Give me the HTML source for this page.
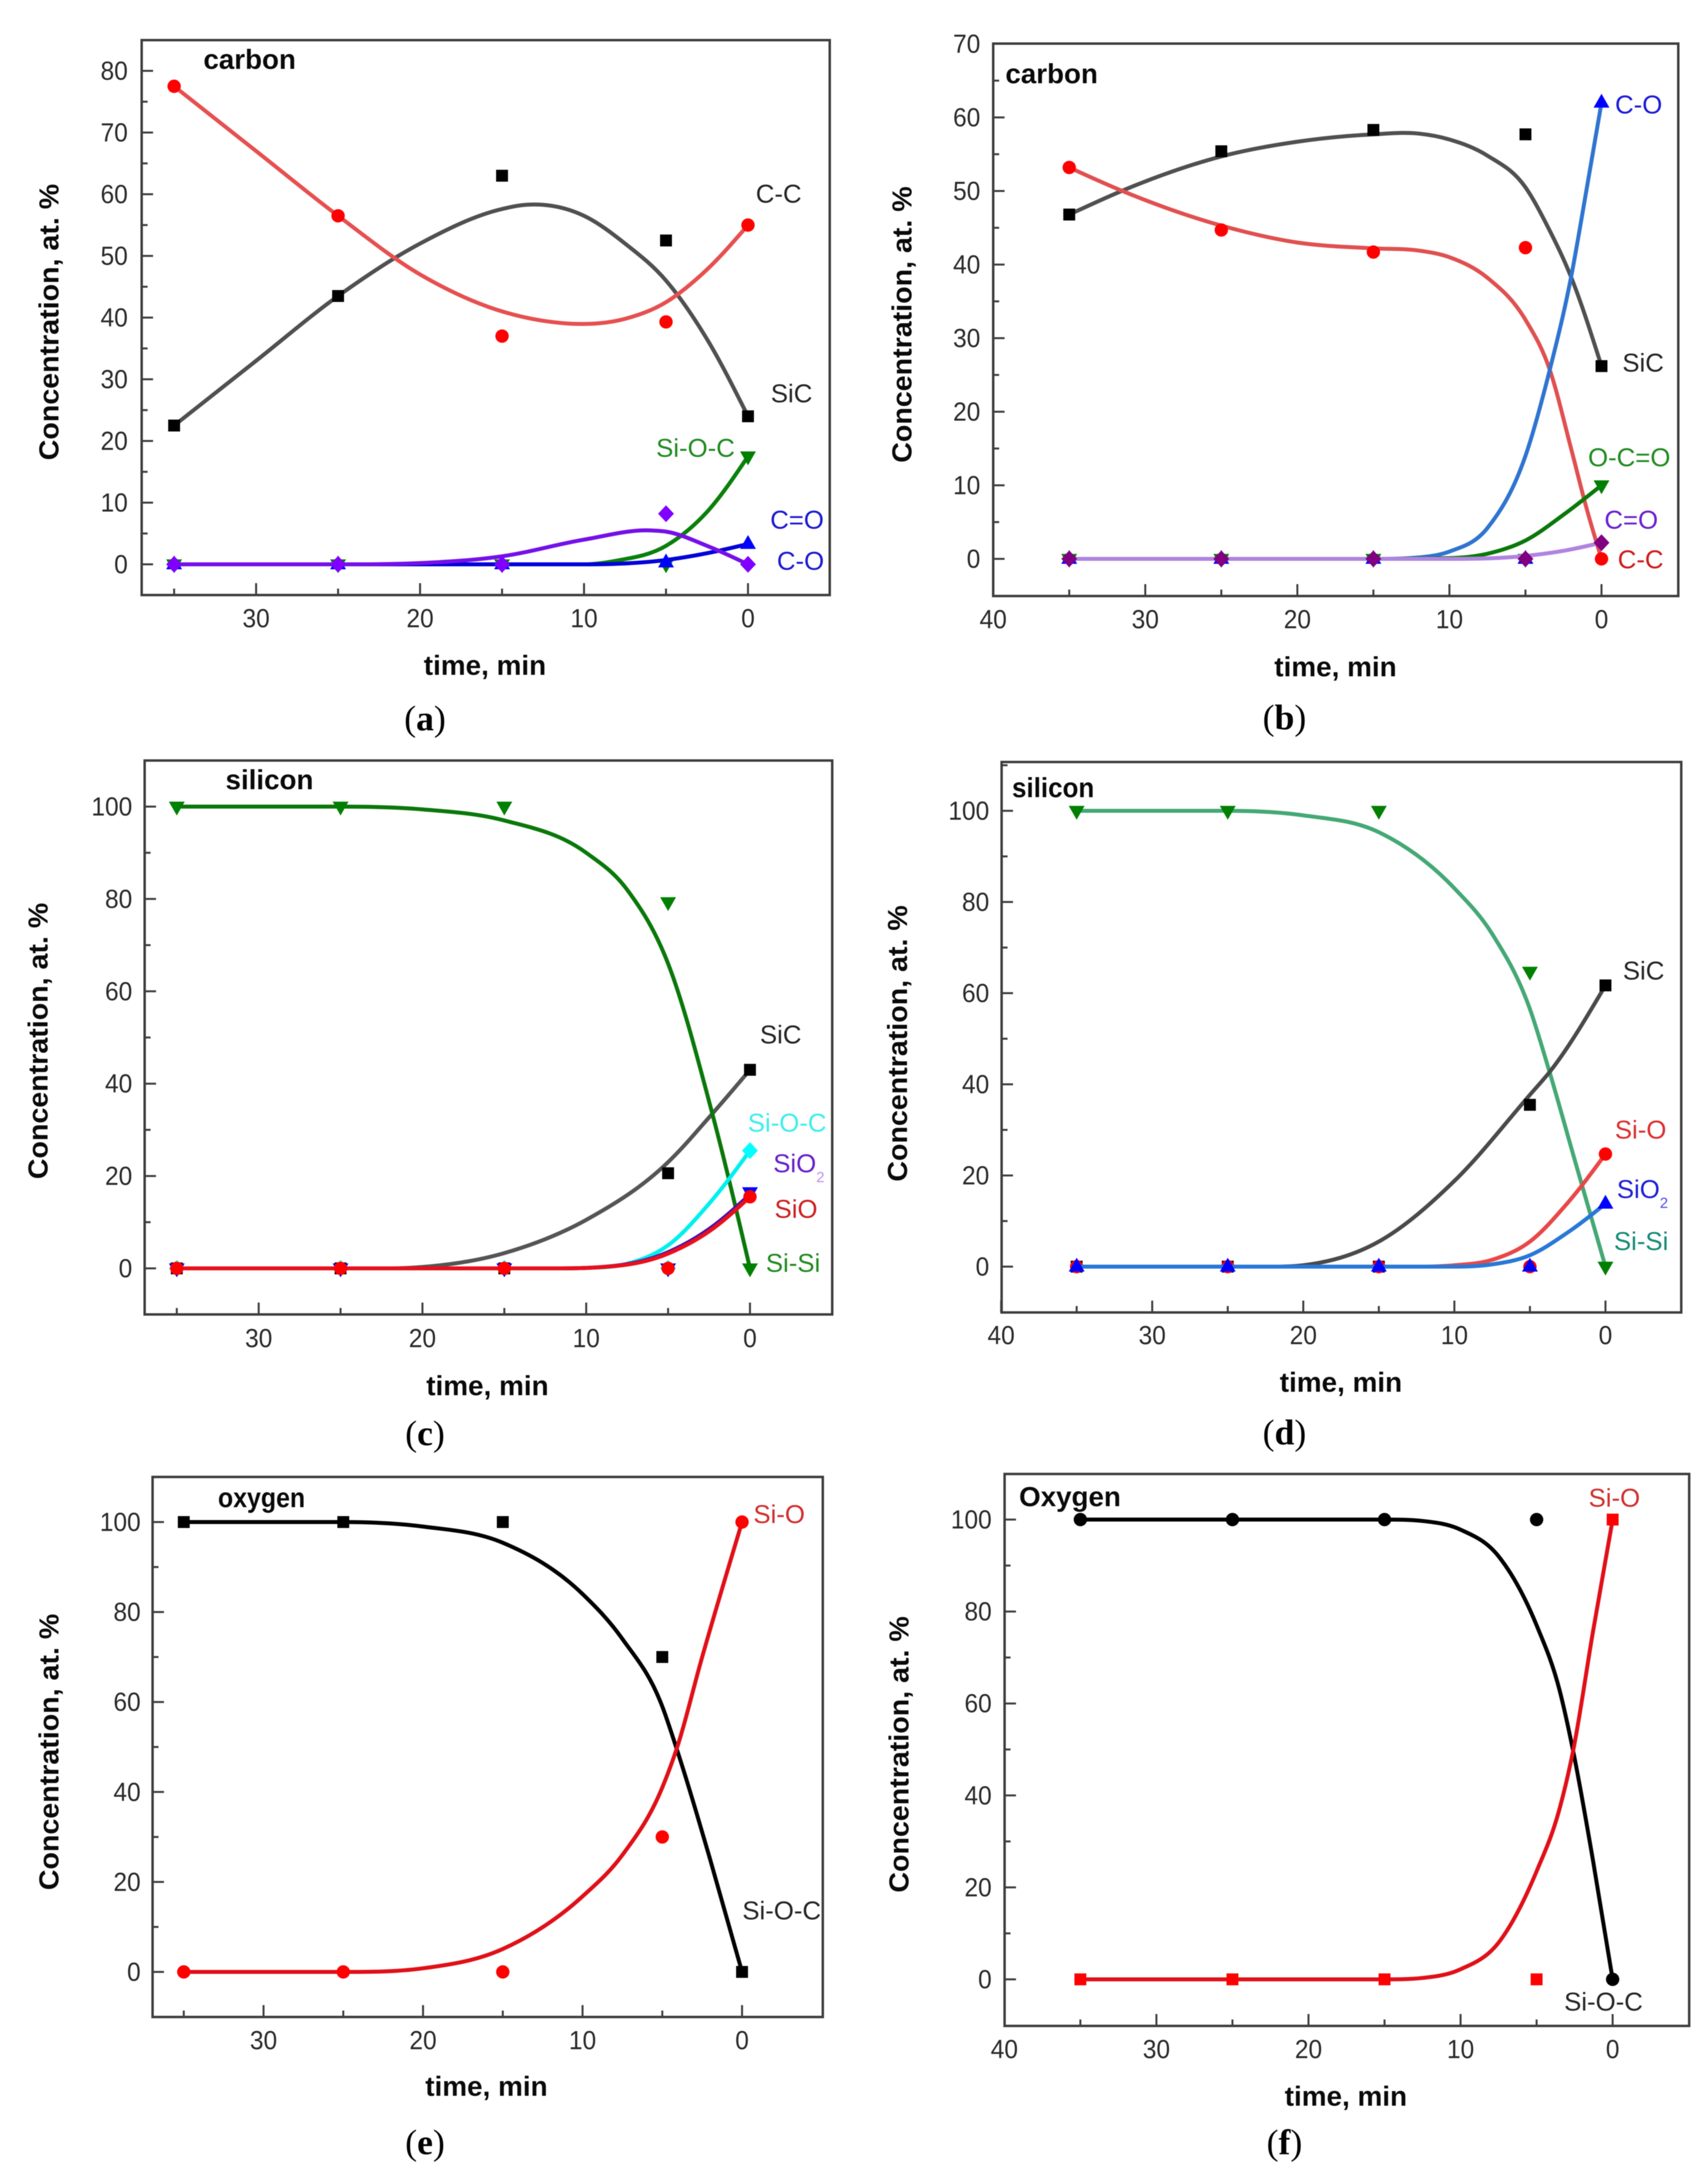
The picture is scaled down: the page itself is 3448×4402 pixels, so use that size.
<!DOCTYPE html>
<html lang="en">
<head>
<meta charset="utf-8">
<title>Concentration versus time, six panels</title>
<style>
html,body{margin:0;padding:0;background:#fff;}
svg{display:block;filter:blur(0.7px);}
text{font-family:"Liberation Sans",Arial,sans-serif;}
.cap{font-family:"Liberation Serif","Times New Roman",serif;}
</style>
</head>
<body>
<svg id="figure" xmlns="http://www.w3.org/2000/svg" width="3448" height="4402" viewBox="0 0 3448 4402">
<rect x="0" y="0" width="3448" height="4402" fill="#ffffff"/>
</svg>
<script>
// ---- shared sample times and axis labels ----
const sampleTimes = [35, 25, 15, 5, 0];
const xMinorTicks = [35, 25, 15, 5];
const xTicksShort = [30, 20, 10, 0];
const xTicksLong = [40, 30, 20, 10, 0];
const yTicksCarbonA = [0, 10, 20, 30, 40, 50, 60, 70, 80];
const yTicksCarbonB = [0, 10, 20, 30, 40, 50, 60, 70];
const yTicksPercent = [0, 20, 40, 60, 80, 100];

// ---- panel a: carbon ----
const aSicPoints = [22.5, 43.5, 63, 52.5, 24];
const aSicCurveT = [35, 30, 25, 20, 15, 13.5, 10, 7.5, 5, 2.5, 0];
const aSicCurveV = [22.5, 33, 43.5, 52, 57.6, 58.3, 56.5, 52, 46, 36.5, 24];
const aCcPoints = [77.5, 56.5, 37, 39.3, 55];
const aCcCurveT = [35, 30, 25, 20, 15, 12, 10.7, 7.5, 5, 2.5, 0];
const aCcCurveV = [77.5, 67, 56.5, 47, 41, 39.3, 39, 39.8, 42.5, 47.8, 55];
const aSiocPoints = [0, 0, 0, 0, 17.5];
const aSiocCurveT = [35, 20, 10, 8, 5, 2.5, 0];
const aSiocCurveV = [0, 0, 0, 0.6, 3, 8.5, 17.5];
const aCoPoints = [0, 0, 0, 0.3, 3.3];
const aCoCurveT = [35, 20, 10, 5, 2.5, 0];
const aCoCurveV = [0, 0, 0, 0.7, 1.8, 3.3];
const aCdoPoints = [0, 0, 0, 8.2, 0];
const aCdoCurveT = [35, 25, 20, 15, 10, 6, 5, 2.5, 0];
const aCdoCurveV = [0, 0, 0.2, 1.3, 4, 5.5, 5.3, 3, 0];

// ---- panel b: carbon ----
const bSicPoints = [46.8, 55.4, 58.3, 57.7, 26.2];
const bSicCurveT = [35, 30, 25, 20, 15, 12, 10, 7.5, 5, 3.5, 2, 0];
const bSicCurveV = [46.8, 51.3, 54.7, 56.7, 57.7, 57.8, 57, 54.8, 50.5, 45, 38.3, 26.2];
const bCcPoints = [53.2, 44.7, 41.7, 42.3, 0];
const bCcCurveT = [35, 31.5, 25, 20, 15, 12, 10, 7.5, 5, 3.4, 2, 1, 0];
const bCcCurveV = [53.2, 50, 45.3, 43, 42.2, 41.9, 41, 38.2, 32.5, 25.7, 15, 7, 0];
const bCoPoints = [0, 0, 0, 0, 62];
const bCoCurveT = [35, 15, 12, 10, 7.5, 5, 3.4, 2, 1, 0];
const bCoCurveV = [0, 0, 0.2, 1, 4.2, 14, 25.7, 38.3, 50, 62];
const bOcoPoints = [0, 0, 0, 0, 10];
const bOcoCurveT = [35, 15, 10, 7.5, 5, 2.5, 0];
const bOcoCurveV = [0, 0, 0.1, 0.7, 2.5, 6, 10];
const bCdoPoints = [0, 0, 0, 0, 2.2];
const bCdoCurveT = [35, 15, 10, 5, 2.5, 0];
const bCdoCurveV = [0, 0, 0, 0.4, 1.1, 2.2];

// ---- panel c: silicon ----
const cSicPoints = [0, 0, 0, 20.6, 43];
const cSicCurveT = [35, 22, 20, 15, 10, 5, 2.3, 0];
const cSicCurveV = [0, 0, 0.3, 3.3, 10.5, 23, 33.5, 43];
const cSisiPoints = [100, 100, 100, 79.3, 0];
const cSisiCurveT = [35, 25, 20, 15, 10, 7.5, 5, 2.3, 0];
const cSisiCurveV = [100, 100, 99.4, 97, 90, 82, 66, 33.5, 0];
const cSiocPoints = [0, 0, 0, 0, 25.5];
const cSiocCurveT = [35, 12, 10, 7.5, 5, 2.5, 0];
const cSiocCurveV = [0, 0, 0.1, 1, 5, 14, 25.5];
const cSio2Points = [0, 0, 0, 0, 16.5];
const cSio2CurveT = [35, 12, 10, 5, 2.5, 0];
const cSio2CurveV = [0, 0, 0.1, 3.5, 8.5, 16];
const cSioPoints = [0, 0, 0, 0, 15.5];
const cSioCurveT = [35, 12, 10, 5, 2.5, 0];
const cSioCurveV = [0, 0, 0.1, 3.2, 8, 15.5];

// ---- panel d: silicon ----
const dSisiPoints = [100, 100, 100, 64.7, 0];
const dSisiCurveT = [35, 25, 20, 15, 10, 7.5, 5, 3.7, 2, 0];
const dSisiCurveV = [100, 100, 99, 95.3, 83, 73, 56.5, 42.7, 23, 0];
const dSicPoints = [0, 0, 0, 35.5, 61.7];
const dSicCurveT = [35, 22, 20, 15, 10, 5, 3.7, 0];
const dSicCurveV = [0, 0, 0.3, 5.5, 18.8, 37.7, 42.7, 61.7];
const dSioPoints = [0, 0, 0, 0, 24.7];
const dSioCurveT = [35, 12, 10, 7.5, 5, 2.5, 0];
const dSioCurveV = [0, 0, 0.3, 1.5, 5.5, 14, 24.7];
const dSio2Points = [0, 0, 0, 0, 13.8];
const dSio2CurveT = [35, 10, 7.5, 5, 2.5, 0];
const dSio2CurveV = [0, 0, 0.5, 2.5, 7.5, 13.8];

// ---- panel e: oxygen ----
const eSiocPoints = [100, 100, 100, 70, 0];
const eSiocCurveT = [35, 25, 20, 15, 10, 7.5, 5, 4.1, 2, 0];
const eSiocCurveV = [100, 100, 99, 95.4, 84, 74, 59, 49.6, 25, 0];
const eSioPoints = [0, 0, 0, 30, 100];
const eSioCurveT = [35, 25, 20, 15, 10, 7.5, 5, 4.1, 2.5, 0];
const eSioCurveV = [0, 0, 0.8, 5.1, 16.8, 26, 41, 49.6, 70, 100];

// ---- panel f: oxygen ----
const fSiocPoints = [100, 100, 100, 100, 0];
const fSiocCurveT = [35, 15, 12.5, 10, 7.5, 5, 3.5, 2.6, 1.3, 0];
const fSiocCurveV = [100, 100, 99.7, 97.8, 92, 77, 63, 49.7, 26, 0];
const fSioPoints = [0, 0, 0, 0, 100];
const fSioCurveT = [35, 15, 12.5, 10, 7.5, 5, 3.5, 2.6, 1.3, 0];
const fSioCurveV = [0, 0, 0.3, 2.2, 8, 23.5, 37, 49.7, 75.5, 100];

const panels = [
  { id: 'a', title: 'carbon', box: { left: 286, right: 1675, top: 81, bottom: 1201 }, xZero: 1510, xUnit: 33.1, yZero: 1139, yUnit: 12.45,
    xTicks: xTicksShort, yTicks: yTicksCarbonA, yMinorStep: 5, titlePos: [504, 119], xTitlePos: [979, 1343], yTitlePos: [99, 650], xLabelY: 1248, yLabelX: 258, capPos: [858, 1456], capLetter: 'a',
    series: [
      { name: 'sic', line: '#505050', marker: '#000000', shape: 'square', points: aSicPoints, curveT: aSicCurveT, curveV: aSicCurveV },
      { name: 'c-c', line: '#e65050', marker: '#ff0000', shape: 'circle', points: aCcPoints, curveT: aCcCurveT, curveV: aCcCurveV },
      { name: 'si-o-c', line: '#0a800a', marker: '#008000', shape: 'down', points: aSiocPoints, curveT: aSiocCurveT, curveV: aSiocCurveV },
      { name: 'c-o', line: '#0000d8', marker: '#0000ff', shape: 'up', points: aCoPoints, curveT: aCoCurveT, curveV: aCoCurveV },
      { name: 'c=o', line: '#7510e8', marker: '#8000ff', shape: 'diamond', points: aCdoPoints, curveT: aCdoCurveT, curveV: aCdoCurveV }
    ],
    labels: [
      { text: 'C-C', x: 1572, y: 390, color: '#262626' },
      { text: 'SiC', x: 1598, y: 793, color: '#262626' },
      { text: 'Si-O-C', x: 1404, y: 903, color: '#228b22' },
      { text: 'C=O', x: 1609, y: 1048, color: '#1c1cd0' },
      { text: 'C-O', x: 1616, y: 1131, color: '#1c1cd0' }
    ] },
  { id: 'b', title: 'carbon', box: { left: 2005, right: 3388, top: 88, bottom: 1203 }, xZero: 3233, xUnit: 30.7, yZero: 1128, yUnit: 14.85,
    xTicks: xTicksLong, yTicks: yTicksCarbonB, yMinorStep: 5, titlePos: [2123, 148], xTitlePos: [2696, 1346], yTitlePos: [1821, 655], xLabelY: 1250, yLabelX: 1979, capPos: [2593, 1454], capLetter: 'b',
    series: [
      { name: 'sic', line: '#505050', marker: '#000000', shape: 'square', points: bSicPoints, curveT: bSicCurveT, curveV: bSicCurveV },
      { name: 'c-c', line: '#e05050', marker: '#ff0000', shape: 'circle', points: bCcPoints, curveT: bCcCurveT, curveV: bCcCurveV },
      { name: 'c-o', line: '#2f74d0', marker: '#0000ff', shape: 'up', points: bCoPoints, curveT: bCoCurveT, curveV: bCoCurveV },
      { name: 'o-c=o', line: '#0a780a', marker: '#008000', shape: 'down', points: bOcoPoints, curveT: bOcoCurveT, curveV: bOcoCurveV },
      { name: 'c=o', line: '#b184e0', marker: '#800080', shape: 'diamond', points: bCdoPoints, curveT: bCdoCurveT, curveV: bCdoCurveV }
    ],
    labels: [
      { text: 'C-O', x: 3308, y: 210, color: '#1c1cd8' },
      { text: 'SiC', x: 3317, y: 731, color: '#262626' },
      { text: 'O-C=O', x: 3289, y: 922, color: '#228b22' },
      { text: 'C=O', x: 3293, y: 1048, color: '#6a20d0' },
      { text: 'C-C', x: 3312, y: 1128, color: '#d01c1c' }
    ] },
  { id: 'c', title: 'silicon', box: { left: 292, right: 1680, top: 1535, bottom: 2653 }, xZero: 1514, xUnit: 33.06, yZero: 2560, yUnit: 9.32,
    xTicks: xTicksShort, yTicks: yTicksPercent, yMinorStep: 10, titlePos: [544, 1573], xTitlePos: [984, 2797], yTitlePos: [77, 2101], xLabelY: 2701, yLabelX: 267, capPos: [858, 2899], capLetter: 'c',
    series: [
      { name: 'sic', line: '#555555', marker: '#000000', shape: 'square', points: cSicPoints, curveT: cSicCurveT, curveV: cSicCurveV },
      { name: 'si-si', line: '#0a780a', marker: '#008000', shape: 'down', points: cSisiPoints, curveT: cSisiCurveT, curveV: cSisiCurveV },
      { name: 'si-o-c', line: '#00f0f0', marker: '#00ffff', shape: 'diamond', points: cSiocPoints, curveT: cSiocCurveT, curveV: cSiocCurveV },
      { name: 'sio2', line: '#4a10b0', marker: '#0000ff', shape: 'down', points: cSio2Points, curveT: cSio2CurveT, curveV: cSio2CurveV },
      { name: 'sio', line: '#e8101c', marker: '#ff0000', shape: 'circle', points: cSioPoints, curveT: cSioCurveT, curveV: cSioCurveV }
    ],
    labels: [
      { text: 'SiC', x: 1576, y: 2087, color: '#262626' },
      { text: 'Si-O-C', x: 1589, y: 2265, color: '#40eeee' },
      { text: 'SiO', sub: '2', x: 1604.5, y: 2347, color: '#6a20c8', subColor: '#c090f0' },
      { text: 'SiO', x: 1607, y: 2439, color: '#cc2222' },
      { text: 'Si-Si', x: 1601, y: 2548, color: '#228b22' }
    ] },
  { id: 'd', title: 'silicon', titleFit: 166, box: { left: 2022, right: 3394, top: 1538, bottom: 2649 }, xZero: 3241, xUnit: 30.5, yZero: 2556.5, yUnit: 9.2,
    xTicks: xTicksLong, yTicks: yTicksPercent, yMinorStep: 10, titlePos: [2126, 1589], xTitlePos: [2707, 2790], yTitlePos: [1812, 2106], xLabelY: 2695, yLabelX: 1997, capPos: [2593, 2897], capLetter: 'd',
    series: [
      { name: 'si-si', line: '#45a875', marker: '#008000', shape: 'down', points: dSisiPoints, curveT: dSisiCurveT, curveV: dSisiCurveV },
      { name: 'sic', line: '#4a4a4a', marker: '#000000', shape: 'square', points: dSicPoints, curveT: dSicCurveT, curveV: dSicCurveV },
      { name: 'si-o', line: '#e84848', marker: '#ff0000', shape: 'circle', points: dSioPoints, curveT: dSioCurveT, curveV: dSioCurveV },
      { name: 'sio2', line: '#2878d8', marker: '#0000ff', shape: 'up', points: dSio2Points, curveT: dSio2CurveT, curveV: dSio2CurveV }
    ],
    labels: [
      { text: 'SiC', x: 3318, y: 1958, color: '#262626' },
      { text: 'Si-O', x: 3312, y: 2279, color: '#dc3030' },
      { text: 'SiO', sub: '2', x: 3307.5, y: 2399, color: '#2020d8', subColor: '#5050e8' },
      { text: 'Si-Si', x: 3313, y: 2504, color: '#1a8a78' }
    ] },
  { id: 'e', title: 'oxygen', titleFit: 176, box: { left: 308, right: 1661, top: 2981, bottom: 4071 }, xZero: 1498, xUnit: 32.2, yZero: 3980, yUnit: 9.08,
    xTicks: xTicksShort, yTicks: yTicksPercent, yMinorStep: 10, titlePos: [528, 3022], xTitlePos: [982, 4211], yTitlePos: [99, 3536], xLabelY: 4118, yLabelX: 284, capPos: [858, 4330], capLetter: 'e',
    series: [
      { name: 'si-o-c', line: '#000000', marker: '#000000', shape: 'square', points: eSiocPoints, curveT: eSiocCurveT, curveV: eSiocCurveV },
      { name: 'si-o', line: '#e01018', marker: '#ff0000', shape: 'circle', points: eSioPoints, curveT: eSioCurveT, curveV: eSioCurveV }
    ],
    labels: [
      { text: 'Si-O', x: 1573, y: 3055, color: '#d03030' },
      { text: 'Si-O-C', x: 1578, y: 3855, color: '#262626' }
    ] },
  { id: 'f', title: 'Oxygen', box: { left: 2028, right: 3410, top: 2975, bottom: 4089 }, xZero: 3255.5, xUnit: 30.7, yZero: 3995, yUnit: 9.28,
    xTicks: xTicksLong, yTicks: yTicksPercent, yMinorStep: 10, titlePos: [2160, 3020], xTitlePos: [2717, 4231], yTitlePos: [1815, 3541], xLabelY: 4136, yLabelX: 2002, capPos: [2593, 4330], capLetter: 'f',
    series: [
      { name: 'si-o-c', line: '#000000', marker: '#000000', shape: 'circle', points: fSiocPoints, curveT: fSiocCurveT, curveV: fSiocCurveV },
      { name: 'si-o', line: '#e01018', marker: '#ff0000', shape: 'square', points: fSioPoints, curveT: fSioCurveT, curveV: fSioCurveV }
    ],
    labels: [
      { text: 'Si-O', x: 3259, y: 3022, color: '#d03030' },
      { text: 'Si-O-C', x: 3237, y: 4039, color: '#262626' }
    ] }
];

const NS = 'http://www.w3.org/2000/svg';
const figure = document.getElementById('figure');

function node(parent, tag, attrs) {
  const el = document.createElementNS(NS, tag);
  for (const k in attrs) el.setAttribute(k, attrs[k]);
  parent.appendChild(el);
  return el;
}

// smooth cubic through curve knots, in pixel space; flat runs stay flat
function curvePath(xs, ys) {
  const n = xs.length, sl = [], tan = [];
  for (let i = 0; i < n - 1; i++) sl.push((ys[i + 1] - ys[i]) / (xs[i + 1] - xs[i]));
  for (let i = 1; i < n - 1; i++) {
    if (sl[i - 1] * sl[i] < 0 && Math.abs(sl[i - 1]) + Math.abs(sl[i]) > 0.6) {
      tan[i] = 0;
    } else if (sl[i - 1] === 0 || sl[i] === 0) {
      tan[i] = 0;
    } else {
      const h0 = xs[i] - xs[i - 1], h1 = xs[i + 1] - xs[i];
      const p = (sl[i - 1] * h1 + sl[i] * h0) / (h0 + h1);
      const lim = 3 * Math.min(Math.abs(sl[i - 1]), Math.abs(sl[i]));
      tan[i] = sl[i - 1] * sl[i] < 0 ? p : Math.sign(p) * Math.min(Math.abs(p), lim);
    }
  }
  tan[0] = sl[0] === 0 ? 0 : (3 * sl[0] - tan[1]) / 2;
  tan[n - 1] = sl[n - 2] === 0 ? 0 : (3 * sl[n - 2] - tan[n - 2]) / 2;
  let d = 'M' + xs[0].toFixed(1) + ' ' + ys[0].toFixed(1);
  for (let i = 0; i < n - 1; i++) {
    const h = (xs[i + 1] - xs[i]) / 3;
    d += 'C' + (xs[i] + h).toFixed(1) + ' ' + (ys[i] + tan[i] * h).toFixed(1) + ' ' +
      (xs[i + 1] - h).toFixed(1) + ' ' + (ys[i + 1] - tan[i + 1] * h).toFixed(1) + ' ' +
      xs[i + 1].toFixed(1) + ' ' + ys[i + 1].toFixed(1);
  }
  return d;
}

function drawMarker(parent, shape, cx, cy, fill) {
  if (shape === 'square') return node(parent, 'rect', { x: cx - 12, y: cy - 12, width: 24, height: 24, fill: fill });
  if (shape === 'circle') return node(parent, 'circle', { cx: cx, cy: cy, r: 13.5, fill: fill });
  let pts;
  if (shape === 'down') pts = [[cx - 16, cy - 10], [cx + 16, cy - 10], [cx, cy + 18]];
  else if (shape === 'up') pts = [[cx - 16, cy + 10], [cx + 16, cy + 10], [cx, cy - 18]];
  else pts = [[cx - 16, cy], [cx, cy - 17], [cx + 16, cy], [cx, cy + 17]];
  return node(parent, 'polygon', { points: pts.map(function (p) { return p.join(','); }).join(' '), fill: fill });
}

function drawText(parent, str, x, y, opts) {
  const t = node(parent, 'text', { x: x, y: y, 'font-size': opts.size, fill: opts.fill, 'text-anchor': opts.anchor || 'middle' });
  if (opts.weight) t.setAttribute('font-weight', opts.weight);
  if (opts.fit) { t.setAttribute('textLength', opts.fit); t.setAttribute('lengthAdjust', 'spacingAndGlyphs'); }
  if (opts.rotate) t.setAttribute('transform', 'rotate(' + opts.rotate + ' ' + x + ' ' + y + ')');
  t.textContent = str;
  return t;
}

panels.forEach(function (p) {
  const xOf = function (t) { return p.xZero - t * p.xUnit; };
  const yOf = function (v) { return p.yZero - v * p.yUnit; };
  const b = p.box;

  const g = node(figure, 'g', {});
  
  

  const axisColor = '#3e3e3e';

  // major and minor y ticks
  const yStep = p.yTicks[1] - p.yTicks[0];
  p.yTicks.forEach(function (v) {
    const ty = yOf(v);
    const tick = node(g, 'line', { x1: b.left, x2: b.left + 23, y1: ty, y2: ty, stroke: axisColor, 'stroke-width': 4 });
    
    
    const label = drawText(g, String(v), p.yLabelX, ty + 18, { size: 53, fill: '#2a2a2a', anchor: 'end', fit: String(v).length * 27.5 });
    
    
    [v + yStep / 2, v - yStep / 2].forEach(function (m) {
      const my = yOf(m);
      if (my <= b.top + 4 || my >= b.bottom - 4 || (m > v && v !== p.yTicks[p.yTicks.length - 1])) return;
      const minor = node(g, 'line', { x1: b.left, x2: b.left + 12, y1: my, y2: my, stroke: axisColor, 'stroke-width': 4 });
      
      
    });
  });

  // major and minor x ticks
  p.xTicks.forEach(function (t) {
    const tx = xOf(t);
    const tick = node(g, 'line', { x1: tx, x2: tx, y1: b.bottom, y2: b.bottom - 24, stroke: axisColor, 'stroke-width': 4 });
    
    
    const label = drawText(g, String(t), tx, p.xLabelY + 18, { size: 53, fill: '#2a2a2a', fit: String(t).length * 27.5 });
    
    
  });
  xMinorTicks.forEach(function (t) {
    const tx = xOf(t);
    const minor = node(g, 'line', { x1: tx, x2: tx, y1: b.bottom, y2: b.bottom - 13, stroke: axisColor, 'stroke-width': 4 });
    
    
  });

  // plot frame
  const frame = node(g, 'rect', { x: b.left, y: b.top, width: b.right - b.left, height: b.bottom - b.top, fill: 'none', stroke: axisColor, 'stroke-width': 5 });
  
  

  // series
  p.series.forEach(function (s) {
    const xs = s.curveT.map(xOf);
    const ys = s.curveV.map(yOf);
    const path = node(g, 'path', { d: curvePath(xs, ys), fill: 'none', stroke: s.line, 'stroke-width': 8, 'stroke-linecap': 'round' });
    
    
    s.points.forEach(function (v, i) {
      const m = drawMarker(g, s.shape, xOf(sampleTimes[i]), yOf(v), s.marker);
      
      
    });
  });

  // series labels
  p.labels.forEach(function (l) {
    let t;
    if (l.sub) {
      t = drawText(g, l.text, l.x - 43.5, l.y + 19, { size: 52, fill: l.color, anchor: 'start' });
      const sub = node(t, 'tspan', { dy: 20, 'font-size': 30, fill: l.subColor });
      sub.textContent = l.sub;
    } else {
      t = drawText(g, l.text, l.x, l.y + 19, { size: 52, fill: l.color });
    }
    
    
  });

  // titles
  const title = drawText(g, p.title, p.titlePos[0], p.titlePos[1] + 20, { size: 56, fill: '#0a0a0a', weight: 'bold', fit: p.titleFit });
  
  

  const xTitle = drawText(g, 'time, min', p.xTitlePos[0], p.xTitlePos[1] + 19, { size: 56, fill: '#0a0a0a', weight: 'bold', fit: 247 });
  
  

  const yTitle = drawText(g, 'Concentration, at. %', p.yTitlePos[0] + 19, p.yTitlePos[1], { size: 56, fill: '#0a0a0a', weight: 'bold', fit: 558, rotate: -90 });
  
  

  // caption
  const cap = node(g, 'text', { x: p.capPos[0], y: p.capPos[1] + 18, 'font-size': 72, fill: '#000000', 'text-anchor': 'middle', 'class': 'cap' });
  
  
  cap.appendChild(document.createTextNode('('));
  const capLetter = node(cap, 'tspan', { 'font-weight': 'bold' });
  capLetter.textContent = p.capLetter;
  cap.appendChild(document.createTextNode(')'));
});
</script>
</body>
</html>
